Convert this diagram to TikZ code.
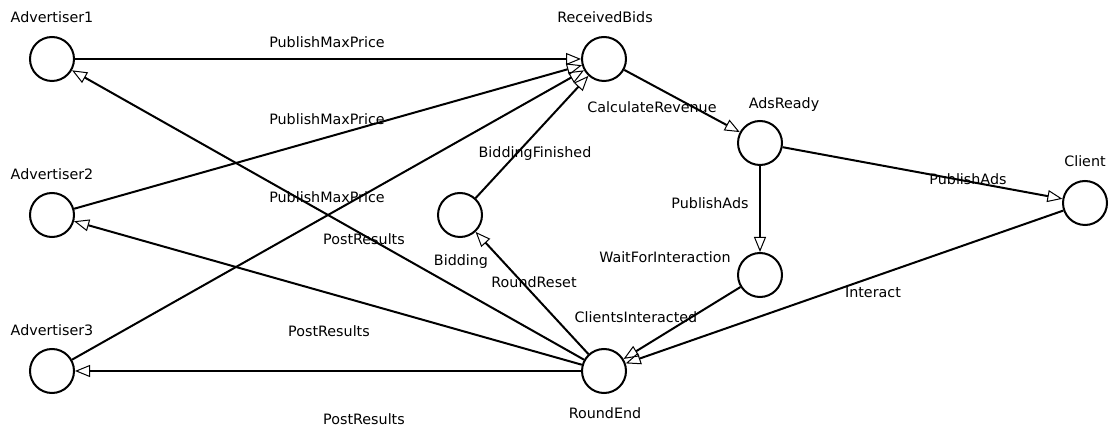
\documentclass[tikz,border=0pt]{standalone}
\usepackage{fontspec}
\setmainfont{DejaVu Sans}
\usetikzlibrary{arrows.meta}
\begin{document}
\begin{tikzpicture}[x=1pt,y=-1pt,
  state/.style={circle,draw,line width=2pt,minimum size=44pt,inner sep=0pt},
  lbl/.style={anchor=base,inner sep=0pt,font=\fontsize{14.3}{16}\selectfont},
  tr/.style={line width=2pt,-{Triangle[open,length=15pt,width=12pt,line width=1pt]}}]
\useasboundingbox (0,0) rectangle (1120,427);
% states
\node[state] (a1) at (52,59) {};
\node[state] (a2) at (52,215) {};
\node[state] (a3) at (52,371) {};
\node[state] (rb) at (604,59) {};
\node[state] (ar) at (760,143) {};
\node[state] (cl) at (1085,203) {};
\node[state] (bi) at (460,215) {};
\node[state] (wi) at (760,275) {};
\node[state] (re) at (604,371) {};
% state labels
\node[lbl] (la1) at (52,23) {Advertiser1};
\node[lbl] (la2) at (52,180) {Advertiser2};
\node[lbl] (la3) at (52,336) {Advertiser3};
\node[lbl] (lrb) at (605,23) {ReceivedBids};
\node[lbl] (lar) at (784,109) {AdsReady};
\node[lbl] (lcl) at (1085,167) {Client};
\node[lbl] (lbi) at (461,266) {Bidding};
\node[lbl] (lwi) at (665,263) {WaitForInteraction};
\node[lbl] (lre) at (605,419) {RoundEnd};
% transitions
\draw[tr] (a1) -- (rb);
\draw[tr] (a2) -- (rb);
\draw[tr] (a3) -- (rb);
\draw[tr] (bi) -- (rb);
\draw[tr] (rb) -- (ar);
\draw[tr] (ar) -- (wi);
\draw[tr] (ar) -- (cl);
\draw[tr] (wi) -- (re);
\draw[tr] (cl) -- (re);
\draw[tr] (re) -- (bi);
\draw[tr] (re) -- (a1);
\draw[tr] (re) -- (a2);
\draw[tr] (re) -- (a3);
% transition labels
\node[lbl] (t1) at (327,48) {PublishMaxPrice};
\node[lbl] (t2) at (327,125) {PublishMaxPrice};
\node[lbl] (t3) at (327,203) {PublishMaxPrice};
\node[lbl] (t4) at (364,245) {PostResults};
\node[lbl] (t5) at (329,337) {PostResults};
\node[lbl] (t6) at (364,425) {PostResults};
\node[lbl] (t7) at (535,158) {BiddingFinished};
\node[lbl] (t8) at (652,113) {CalculateRevenue};
\node[lbl] (t9) at (534,288) {RoundReset};
\node[lbl] (t10) at (636,323) {ClientsInteracted};
\node[lbl] (t11) at (710,209) {PublishAds};
\node[lbl] (t12) at (968,185) {PublishAds};
\node[lbl] (t13) at (873,298) {Interact};
\end{tikzpicture}
\end{document}
